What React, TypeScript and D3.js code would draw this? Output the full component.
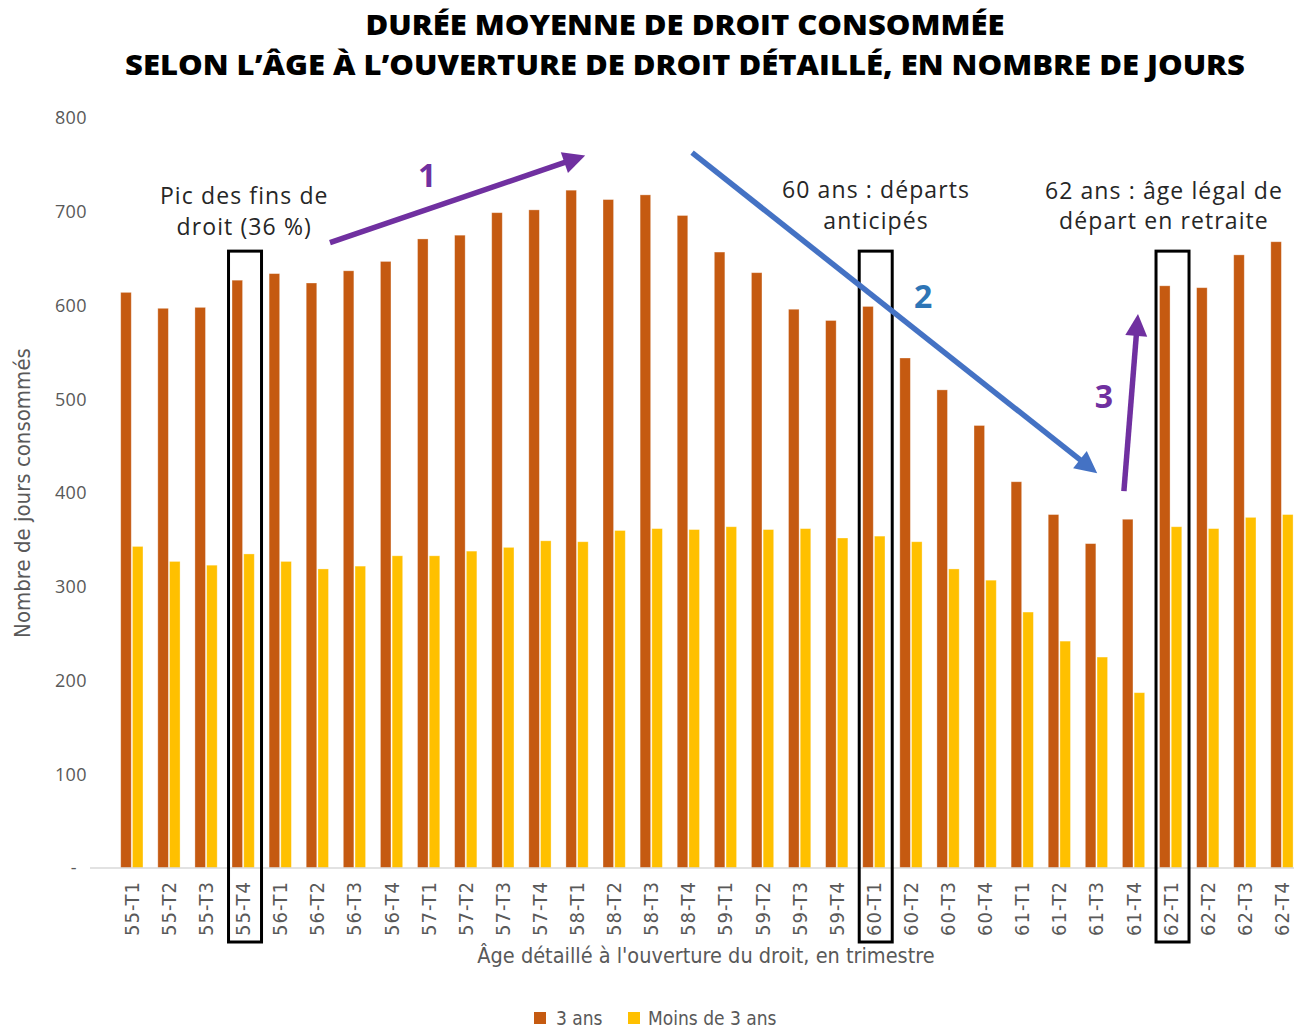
import React from "react"
import * as d3 from "d3"

// quarters of age at the opening of the right
const categories = [
  "55-T1", "55-T2", "55-T3", "55-T4", "56-T1", "56-T2", "56-T3", "56-T4",
  "57-T1", "57-T2", "57-T3", "57-T4", "58-T1", "58-T2", "58-T3", "58-T4",
  "59-T1", "59-T2", "59-T3", "59-T4", "60-T1", "60-T2", "60-T3", "60-T4",
  "61-T1", "61-T2", "61-T3", "61-T4", "62-T1", "62-T2", "62-T3", "62-T4",
]
const threeYears = [
  614, 597, 598, 627, 634, 624, 637, 647, 671, 675, 699, 702, 723, 713, 718, 696,
  657, 635, 596, 584, 599, 544, 510, 472, 412, 377, 346, 372, 621, 619, 654, 668,
]
const lessThanThree = [
  343, 327, 323, 335, 327, 319, 322, 333, 333, 338, 342, 349, 348, 360, 362, 361,
  364, 361, 362, 352, 354, 348, 319, 307, 273, 242, 225, 187, 364, 362, 374, 377,
]
const yTicks = [0, 100, 200, 300, 400, 500, 600, 700, 800]
const seriesNames = ["3 ans", "Moins de 3 ans"]
const highlighted = ["55-T4", "60-T1", "62-T1"]

const notes = [
  { lines: ["Pic des fins de", "droit (36 %)"], at: 3.03, v: [717, 684] },
  { lines: ["60 ans : départs", "anticipés"], at: 20.06, v: [723, 690] },
  { lines: ["62 ans : âge légal de", "départ en retraite"], at: 27.82, v: [722, 690] },
]
// arrows in (category index, value) space
const arrows = [
  { from: [5.34, 667], to: [12.22, 760], color: "#7030a0", label: "1", lab: [7.96, 738], labColor: "#7030a0" },
  { from: [15.1, 763], to: [26.02, 421], color: "#4472c4", label: "2", lab: [21.33, 609], labColor: "#2e75b6" },
  { from: [26.74, 402], to: [27.12, 591], color: "#7030a0", label: "3", lab: [26.2, 503], labColor: "#7030a0" },
]

const W = 1294
const H = 1029
const orange = "#c55a11"
const yellow = "#ffc000"
const grey = "#595959"
const narrow = "'Liberation Sans Narrow', 'DejaVu Sans Condensed', sans-serif"

export default function App() {
  const x0 = d3.scaleBand().domain(categories).range([113.3, 1300.5]).paddingInner(0.4).paddingOuter(0.2)
  const x1 = d3.scaleBand().domain(seriesNames).range([0, x0.bandwidth()]).paddingInner(0.1)
  const y = d3.scaleLinear().domain([0, 800]).range([868, 118])
  const px = (i: number) => (x0(categories[0]) as number) + x0.bandwidth() / 2 + i * x0.step()

  const arrowHead = (a: any) => {
    const [x1p, y1p] = [px(a.from[0]), y(a.from[1])]
    const [x2p, y2p] = [px(a.to[0]), y(a.to[1])]
    const ang = Math.atan2(y2p - y1p, x2p - x1p)
    const len = 22, half = 11
    const bx = x2p - len * Math.cos(ang), by = y2p - len * Math.sin(ang)
    const nx = -Math.sin(ang), ny = Math.cos(ang)
    return {
      line: [x1p, y1p, bx + 2 * Math.cos(ang), by + 2 * Math.sin(ang)],
      head: `${x2p},${y2p} ${bx + nx * half},${by + ny * half} ${bx - nx * half},${by - ny * half}`,
    }
  }

  return (
    <svg width={W} height={H} style={{ position: "absolute", left: 0, top: 0, background: "#fff" }}
      fontFamily="'Open Sans', sans-serif">
      <text x={685} y={35} textAnchor="middle" fontSize={29} fontWeight={800} fill="#000"
        textLength={639} lengthAdjust="spacingAndGlyphs">
        DURÉE MOYENNE DE DROIT CONSOMMÉE
      </text>
      <text x={685} y={75} textAnchor="middle" fontSize={29} fontWeight={800} fill="#000"
        textLength={1120} lengthAdjust="spacingAndGlyphs">
        SELON L’ÂGE À L’OUVERTURE DE DROIT DÉTAILLÉ, EN NOMBRE DE JOURS
      </text>

      {/* y axis labels (zero shown as a dash, accounting style) */}
      {yTicks.map(t => (
        <text key={t} x={t === 0 ? 77 : 87} y={y(t)} dy="0.35em" textAnchor="end" fontSize={18}
          letterSpacing={0.4} fill={grey}>
          {t === 0 ? "-" : t}
        </text>
      ))}
      <text transform={`translate(30,${y(400)}) rotate(-90)`} textAnchor="middle" fontSize={22}
        fontFamily={narrow} fill={grey}>
        Nombre de jours consommés
      </text>

      {/* bars */}
      {categories.map((c, i) => (
        <g key={c} transform={`translate(${x0(c)},0)`}>
          <rect x={x1("3 ans")} y={y(threeYears[i])} width={x1.bandwidth()} height={y(0) - y(threeYears[i])}
            fill={orange} stroke="#fff" strokeOpacity={0.4} strokeWidth={0.8} />
          <rect x={x1("Moins de 3 ans")} y={y(lessThanThree[i])} width={x1.bandwidth()}
            height={y(0) - y(lessThanThree[i])} fill={yellow} stroke="#fff" strokeOpacity={0.4} strokeWidth={0.8} />
        </g>
      ))}
      <line x1={90} x2={W} y1={y(0)} y2={y(0)} stroke="#d9d9d9" strokeWidth={1.5} />

      {/* x labels */}
      {categories.map(c => (
        <text key={c} transform={`translate(${(x0(c) as number) + x0.bandwidth() / 2},881) rotate(-90)`}
          dy="0.35em" textAnchor="end" fontSize={20} letterSpacing={1}
          fontFamily={narrow} fill={grey}>
          {c}
        </text>
      ))}
      <text x={706} y={963} textAnchor="middle" fontSize={21.5} fontFamily={narrow} fill={grey}>
        Âge détaillé à l'ouverture du droit, en trimestre
      </text>

      {/* highlight boxes */}
      {highlighted.map(c => (
        <rect key={c} x={(x0(c) as number) - 3.5} y={y(658)} width={33} height={942 - y(658)}
          fill="none" stroke="#000" strokeWidth={3} />
      ))}

      {/* annotations */}
      {notes.map((n, k) => (
        <g key={k}>
          {n.lines.map((l, j) => (
            <text key={j} x={px(n.at)} y={y(n.v[j])} dy="0.35em" textAnchor="middle" fontSize={23}
              letterSpacing={1.1} fill="#262626">{l}</text>
          ))}
        </g>
      ))}
      {arrows.map((a, k) => {
        const h = arrowHead(a)
        return (
          <g key={k}>
            <line x1={h.line[0]} y1={h.line[1]} x2={h.line[2]} y2={h.line[3]} stroke={a.color} strokeWidth={5.5} />
            <polygon points={h.head} fill={a.color} />
            <text x={px(a.lab[0])} y={y(a.lab[1])} dy="0.35em" textAnchor="middle" fontSize={32}
              fontWeight={700} fill={a.labColor}>{a.label}</text>
          </g>
        )
      })}

      {/* legend */}
      <rect x={534} y={1012} width={12} height={12} fill={orange} />
      <text x={556} y={1018} dy="0.35em" fontSize={19} fill={grey} fontFamily={narrow}>3 ans</text>
      <rect x={628} y={1012} width={12} height={12} fill={yellow} />
      <text x={648} y={1018} dy="0.35em" fontSize={19} fill={grey} fontFamily={narrow}>Moins de 3 ans</text>
    </svg>
  )
}
